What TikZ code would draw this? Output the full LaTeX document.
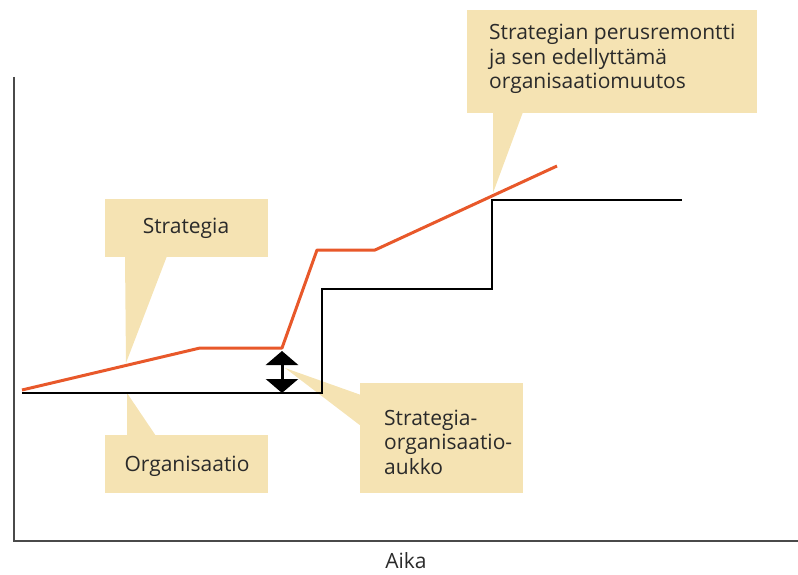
\documentclass[tikz,border=0pt]{standalone}
\usepackage{fontspec}
\setmainfont{Open Sans}
\usetikzlibrary{arrows.meta}
\definecolor{strat}{HTML}{E8582A}
\definecolor{callfill}{HTML}{F5E3B3}
\definecolor{ink}{HTML}{2A2A2A}
\begin{document}
\begin{tikzpicture}[x=1pt,y=-1pt,
  axis/.style={draw=ink!85, line width=1.4pt},
  orgline/.style={draw=black, line width=1.3pt},
  stratline/.style={draw=strat, line width=3pt, line join=round},
  callbox/.style={fill=callfill, draw=none},
  label/.style={text=ink, font=\fontsize{21}{24.5}\selectfont, inner sep=0pt, align=left},
  gaparrow/.style={line width=3pt, draw=black,
    {Triangle[width=32pt,length=14pt]}-{Triangle[width=32pt,length=14pt]}}]
\useasboundingbox (0,0) rectangle (798,575);

% axes
\coordinate (ytop) at (14,77);
\coordinate (orig) at (14,541);
\coordinate (xend) at (798,541);
\draw[axis] (ytop) -- (orig) -- (xend);
\node[label] (aika) at (406,561) {Aika};

% strategy and organisation curves
\coordinate (s0) at (22,390);
\coordinate (s1) at (200,348);
\coordinate (s2) at (282,348);
\coordinate (s3) at (317,250);
\coordinate (s4) at (375,250);
\coordinate (s5) at (557,166);
\coordinate (o0) at (22,393);
\coordinate (o1) at (322,393);
\coordinate (o2) at (322,289);
\coordinate (o3) at (492,289);
\coordinate (o4) at (492,200);
\coordinate (o5) at (682,200);

% callout pointers
\coordinate (pS) at (126,363);
\coordinate (pO) at (127,393);
\coordinate (pG) at (285,368);
\coordinate (pB) at (493,193);
\fill[callfill] (125,256) -- (167,256) -- (pS) -- cycle;
\fill[callfill] (127,436) -- (156,436) -- (pO) -- cycle;
\fill[callfill] (361,395) -- (361,426) -- (pG) -- cycle;
\fill[callfill] (493,112) -- (523,112) -- (pB) -- cycle;

% callout boxes
\path[callbox] (105,199) rectangle (268,257) node[midway] (boxS) {};
\path[callbox] (105,435) rectangle (268,493) node[midway] (boxO) {};
\path[callbox] (360,383) rectangle (523,493) node[midway] (boxG) {};
\path[callbox] (467,10) rectangle (757,113) node[midway] (boxB) {};

\node[label] (tS) at (186,228) {Strategia};
\node[label] (tO) at (187,466) {Organisaatio};
\node[label, anchor=west] (tG) at (384,442) {Strategia-\\organisaatio-\\aukko};
\node[label, anchor=west] (tB) at (489,59) {Strategian perusremontti\\ja sen edellyttämä\\organisaatiomuutos};

% curves on top
\draw[orgline] (o0) -- (o1) -- (o2) -- (o3) -- (o4) -- (o5);
\draw[stratline] (s0) -- (s1) -- (s2) -- (s3) -- (s4) -- (s5);

% gap arrow
\coordinate (gtop) at (282,351);
\coordinate (gbot) at (282,393);
\draw[gaparrow] (gtop) -- (gbot);
\end{tikzpicture}
\end{document}
